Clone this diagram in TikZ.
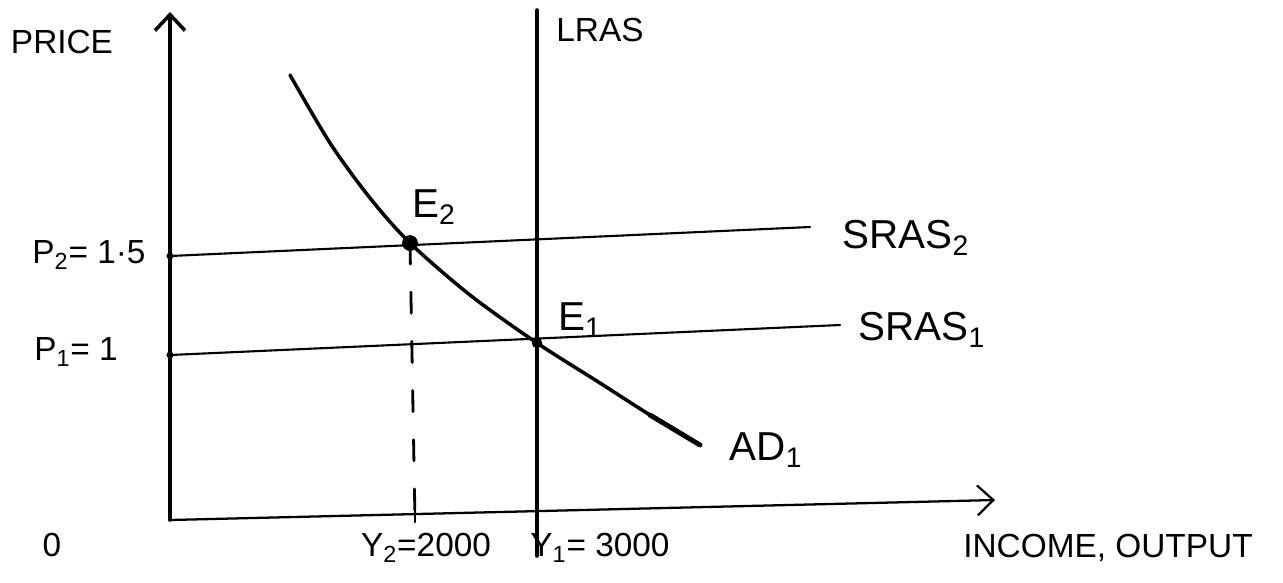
\documentclass[tikz,border=0pt]{standalone}
\usepackage{fontspec}
\setmainfont{Liberation Sans}
\usetikzlibrary{arrows.meta}

\begin{document}
\begin{tikzpicture}[x=0.02cm,y=-0.02cm,>={Straight Barb[length=3.2mm,width=6mm]},line cap=round,
  lbl/.style={inner sep=0pt,font=\fontsize{19}{22}\selectfont},
  big/.style={inner sep=0pt,font=\fontsize{23}{26}\selectfont},
  axis/.style={line width=2pt},
  curve/.style={line width=1.2pt},
  dot/.style={circle,fill,inner sep=0pt,minimum size=#1}]
\useasboundingbox (0,0) rectangle (1283,582);
\coordinate (O) at (170,520);
\coordinate (ytop) at (170,12);
\coordinate (xend) at (995,500);
\coordinate (E2) at (410,243);
\coordinate (E1) at (537,343);
\draw[->,axis] (O) -- (ytop);
\draw[->,line width=1.3pt] (O) -- (xend);
\draw[axis] (537,10) -- (537,556);
\draw[curve] (170,256) -- (810,227);
\draw[curve] (170,355) -- (840,325);
\draw[line width=2pt] plot[smooth,tension=0.5] coordinates {(290,75) (330,143) (370,198) (410,243) (470,295) (537,343) (600,383) (650,415) (700,445)};
\draw[line width=2.8pt] (650,415) -- (700,445);
\draw[line width=1.6pt,dash pattern=on 12pt off 16pt] (E2) -- (415,520);
\draw[line width=1.6pt] (415,502) -- (415,522);
\node[dot=9pt] (e2) at (E2) {};
\node[dot=6pt] (e1) at (E1) {};
\node[dot=4pt] (p2) at (170,256) {};
\node[dot=4pt] (p1) at (170,355) {};
\node[lbl] (price) at (62,42) {PRICE};
\node[lbl] (p2lbl) at (89,255) {P\textsubscript{2}= 1·5};
\node[lbl] (p1lbl) at (76,352) {P\textsubscript{1}= 1};
\node[lbl] (zero) at (52,545) {0};
\node[lbl] (y2lbl) at (426,548) {Y\textsubscript{2}=2000};
\node[lbl] (y1lbl) at (600,548) {Y\textsubscript{1}= 3000};
\node[lbl] (xlbl) at (1108,548) {INCOME, OUTPUT};
\node[lbl] (lras) at (600,30) {LRAS};
\node[big] (e2lbl) at (434,207) {E\textsubscript{2}};
\node[big] (e1lbl) at (580,320) {E\textsubscript{1}};
\node[big] (sras2) at (906,238) {SRAS\textsubscript{2}};
\node[big] (sras1) at (922,330) {SRAS\textsubscript{1}};
\node[big] (ad) at (766,450) {AD\textsubscript{1}};
\end{tikzpicture}
\end{document}
